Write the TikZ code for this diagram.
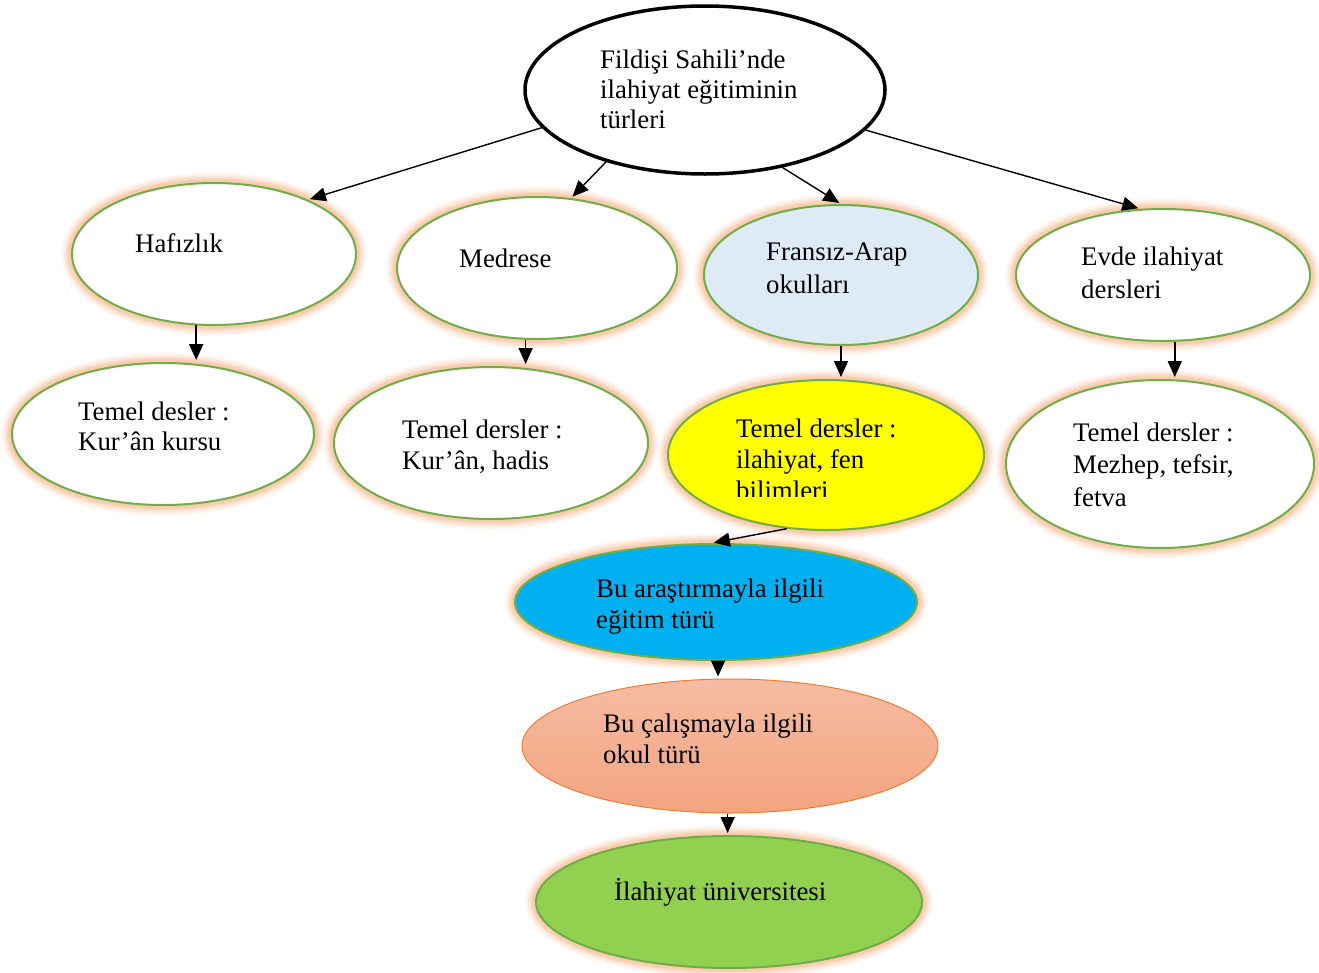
\documentclass[tikz,border=0pt]{standalone}
\usepackage{fontspec}
\setmainfont{Liberation Serif}
\usetikzlibrary{shapes.geometric,arrows.meta,calc}
\definecolor{glowc}{HTML}{F4B183}
\definecolor{edgegreen}{HTML}{70AD47}
\definecolor{paleblue}{HTML}{DEEBF7}
\definecolor{skyblue}{HTML}{00B0F0}
\definecolor{leafgreen}{HTML}{92D050}
\definecolor{purey}{HTML}{FFFF00}
\definecolor{salmontop}{HTML}{F5BCA3}
\definecolor{salmonbot}{HTML}{F4A47F}
\definecolor{salmonedge}{HTML}{ED7D31}
\begin{document}
\begin{tikzpicture}[x=1pt,y=-1pt,
  % soft orange halo round an outline, built from stacked translucent strokes
  glow/.style={
    preaction={draw=glowc,line width=22pt,draw opacity=.07},
    preaction={draw=glowc,line width=19pt,draw opacity=.09},
    preaction={draw=glowc,line width=16pt,draw opacity=.12},
    preaction={draw=glowc,line width=13pt,draw opacity=.16},
    preaction={draw=glowc,line width=10pt,draw opacity=.22},
    preaction={draw=glowc,line width=7pt,draw opacity=.3}},
  oval/.style={ellipse,inner sep=0pt,draw=edgegreen,line width=2pt,fill=white,glow},
  % multi-line labels are placed by the baseline of their last line
  txt/.style={font=\fontsize{26.8pt}{#1}\selectfont,align=left,inner sep=0pt,anchor=base west},
  txt/.default=31pt,
  link/.style={line width=1.4pt,shorten >=2pt,-{Triangle[length=16pt,width=14pt]}},
  drop/.style={link,line width=1.6pt}
]
\useasboundingbox (0,0) rectangle (1319,972);

% ellipses
\node[ellipse,inner sep=0pt,draw=black,line width=3.5pt,fill=white,
      minimum width=360pt,minimum height=168pt] (top) at (705,90) {};
\node[oval,minimum width=284pt,minimum height=142pt] (hafiz) at (214,254) {};
\node[oval,minimum width=280pt,minimum height=142pt] (medrese) at (537,268) {};
\node[oval,fill=paleblue,minimum width=274pt,minimum height=140pt] (fransiz) at (841,275) {};
\node[oval,minimum width=294pt,minimum height=132pt] (evde) at (1163,275) {};
\node[oval,minimum width=302pt,minimum height=142pt] (temelA) at (163,434) {};
\node[oval,minimum width=314pt,minimum height=152pt] (temelB) at (491,443) {};
\node[oval,fill=purey,minimum width=316pt,minimum height=150pt] (temelC) at (826,455) {};
\node[oval,minimum width=308pt,minimum height=168pt] (temelD) at (1160,464) {};
\node[oval,fill=skyblue,minimum width=402pt,minimum height=116pt] (arast) at (716,602) {};
\node[ellipse,inner sep=0pt,draw=salmonedge,line width=1pt,top color=salmontop,bottom color=salmonbot,
      minimum width=416pt,minimum height=134pt] (calis) at (730,746) {};
\node[oval,fill=leafgreen,minimum width=386pt,minimum height=132pt] (ilah) at (729,902) {};

% labels
\node[txt=30pt] (t-top) at (600,128) {Fildişi Sahili’nde\\ilahiyat eğitiminin\\türleri};
\node[txt] (t-hafiz) at (135,252) {Hafızlık};
\node[txt] (t-medrese) at (459,267) {Medrese};
\node[txt=33pt] (t-fransiz) at (766,293) {Fransız-Arap\\okulları};
\node[txt=33pt] (t-evde) at (1081,298) {Evde ilahiyat\\dersleri};
\node[txt=30pt] (t-temelA) at (78,450) {Temel desler :\\Kur’ân kursu};
\node[txt] (t-temelB) at (402,469) {Temel dersler :\\Kur’ân, hadis};
\begin{scope}
  \clip (700,400) rectangle (960,496);
  \node[txt] (t-temelC) at (736,499) {Temel dersler :\\ilahiyat, fen\\bilimleri};
\end{scope}
\node[txt=32.5pt] (t-temelD) at (1073,506) {Temel dersler :\\Mezhep, tefsir,\\fetva};
\node[txt] (t-arast) at (596,628) {Bu araştırmayla ilgili\\eğitim türü};
\node[txt] (t-calis) at (603,763) {Bu çalışmayla ilgili\\okul türü};
\node[txt] (t-ilah) at (614,900) {İlahiyat üniversitesi};

% connectors
\draw[link] (top.193) -- (hafiz.30);
\draw[link] (top.216) -- (medrese.64);
\draw[link] (top.315) -- (fransiz.90);
\draw[link] (top.346) -- (evde.109.5);
\draw[drop,line width=2.4pt] (hafiz.256) -- (hafiz.256 |- temelA.north);
\draw[drop] (medrese.261) -- (medrese.261 |- temelB.north);
\draw[drop] (fransiz.south) -- (fransiz.south |- temelC.north);
\draw[drop] (evde.280) -- (evde.280 |- temelD.north);
\draw[link] (temelC.242.5) -- (arast.94);
\draw[drop] (arast.272) -- (arast.272 |- calis.north);
\draw[drop] (calis.268) -- (calis.268 |- ilah.north);
\end{tikzpicture}
\end{document}
